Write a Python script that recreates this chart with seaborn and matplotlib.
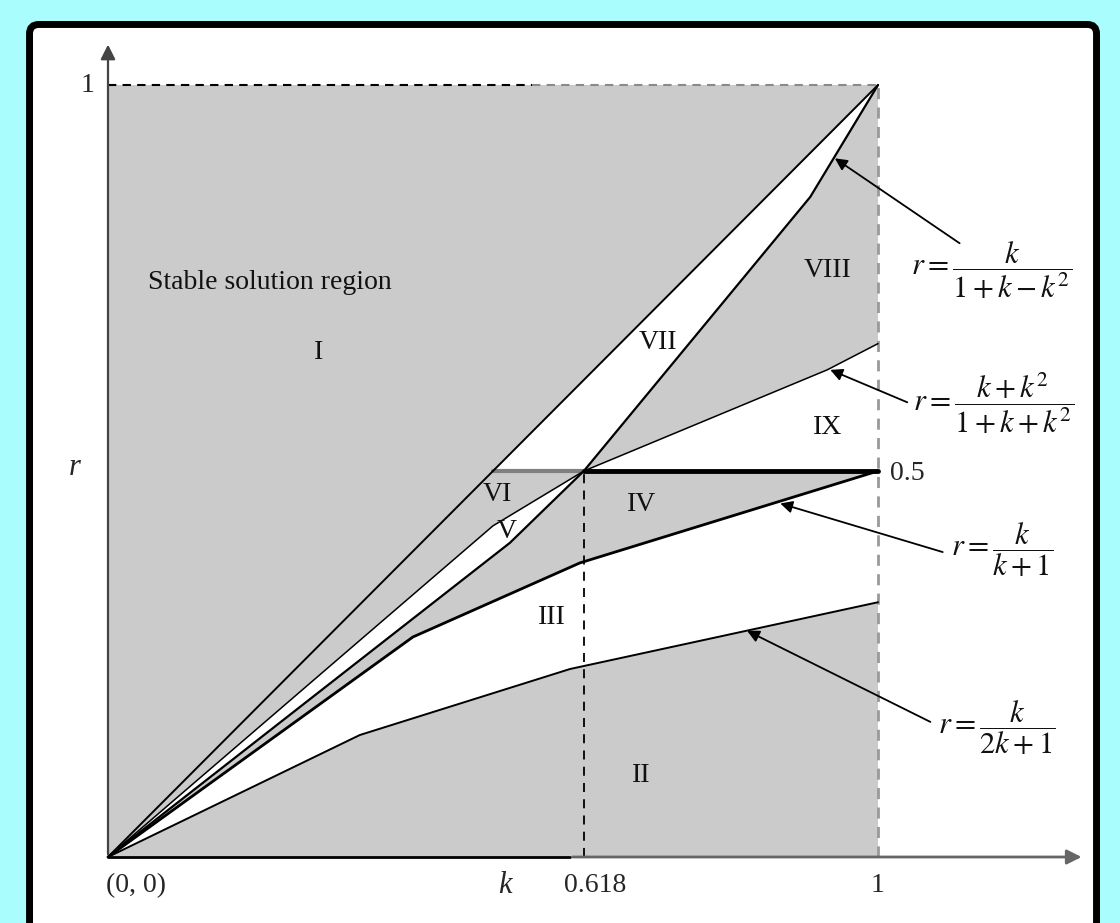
import numpy as np
import matplotlib
matplotlib.use("Agg")
import matplotlib.pyplot as plt
import seaborn as sns
from matplotlib.patches import FancyBboxPatch

sns.set_style("white")
plt.rcParams['font.family'] = ['Liberation Serif', 'DejaVu Serif']
plt.rcParams['mathtext.fontset'] = 'stix'

# boundary curves (k, r)
k_diag = [0.0, 1.0]
r_diag = [0.0, 1.0]
k_B = [0.0, 0.5, 0.618, 0.934, 1.0]        # r = (k+k^2)/(1+k+k^2)
r_B = [0.0, 0.429, 0.5, 0.631, 0.665]
k_C = [0.0, 0.522, 0.618, 0.912, 1.0]      # r = k/(1+k-k^2)
r_C = [0.0, 0.407, 0.5, 0.855, 1.0]
k_D = [0.0, 0.396, 0.613, 1.0]             # r = k/(k+1)
r_D = [0.0, 0.285, 0.381, 0.5]
k_E = [0.0, 0.327, 0.6, 1.0]               # r = k/(2k+1)
r_E = [0.0, 0.158, 0.2435, 0.33]

k_gold = 0.618
r_half = 0.5

region_names = ['I', 'II', 'III', 'IV', 'V', 'VI', 'VII', 'VIII', 'IX']
region_k = [0.273, 0.692, 0.577, 0.693, 0.518, 0.506, 0.714, 0.934, 0.935]
region_r = [0.654, 0.106, 0.310, 0.456, 0.421, 0.469, 0.666, 0.760, 0.556]

formulas = [r'$r=\dfrac{k}{1+k-k^2}$', r'$r=\dfrac{k+k^2}{1+k+k^2}$',
            r'$r=\dfrac{k}{k+1}$', r'$r=\dfrac{k}{2k+1}$']
formula_pos = [(1.043, 0.760), (1.046, 0.588), (1.095, 0.398), (1.078, 0.168)]
arrow_tail = [(1.106, 0.795), (1.038, 0.589), (1.084, 0.395), (1.068, 0.175)]
arrow_head = [(0.944, 0.905), (0.938, 0.631), (0.873, 0.458), (0.830, 0.293)]

gray = '#cbcbcb'

fig = plt.figure(figsize=(11.2, 9.23), dpi=100, facecolor='#a9fdfd')
ax = fig.add_axes([0, 0, 1, 1])
ax.set_xlim(-108 / 770, 1012 / 770)
ax.set_ylim(-66 / 772, 857 / 772)
ax.axis('off')

frame = FancyBboxPatch((-0.1019, -0.133), 1.3857, 1.2114,
                       boxstyle="round,pad=0,rounding_size=0.012",
                       facecolor='white', edgecolor='black', lw=5,
                       zorder=0, clip_on=False)
ax.add_patch(frame)

# shaded square, then white regions on top
ax.fill_between([0, 1], 0, 1, color=gray, lw=0, zorder=1)
ax.fill(k_B[:3] + k_C[:3][::-1], r_B[:3] + r_C[:3][::-1], color='white', lw=0, zorder=2)   # V
ax.fill([r_half] + [1.0] + k_C[2:][::-1], [r_half] + [1.0] + r_C[2:][::-1], color='white', lw=0, zorder=2)  # VII
ax.fill(k_B[2:] + [1.0], r_B[2:] + [r_half], color='white', lw=0, zorder=2)   # IX
ax.fill(k_D + k_E[::-1], r_D + r_E[::-1], color='white', lw=0, zorder=2)      # III

# dashed guides
ax.plot([0, 0.55], [1, 1], color='black', ls=(0, (4, 3)), lw=1.5, zorder=3)
ax.plot([0.55, 1], [1, 1], color='#8a8a8a', ls=(0, (4, 3)), lw=1.5, zorder=3)
ax.plot([1, 1], [0, 1], color='#999999', ls=(0, (4, 3)), lw=2, zorder=3)
ax.plot([k_gold, k_gold], [0, r_half], color='black', ls=(0, (5, 4)), lw=1.3, zorder=3)

# the r = 0.5 line
ax.plot([0.5, k_gold], [r_half, r_half], color='#808080', lw=3, zorder=4)
ax.plot([k_gold, 1.0], [r_half, r_half], color='black', lw=3.5, zorder=4)

# curves
sns.lineplot(x=k_diag, y=r_diag, sort=False, estimator=None, color='black', lw=1.4, ax=ax, zorder=5)
sns.lineplot(x=k_B, y=r_B, sort=False, estimator=None, color='black', lw=1.1, ax=ax, zorder=5)
sns.lineplot(x=k_C, y=r_C, sort=False, estimator=None, color='black', lw=1.6, ax=ax, zorder=5)
sns.lineplot(x=k_D, y=r_D, sort=False, estimator=None, color='black', lw=2.0, ax=ax, zorder=5)
sns.lineplot(x=k_E, y=r_E, sort=False, estimator=None, color='black', lw=1.4, ax=ax, zorder=5)
ax.axis('off')

# axes with arrows
ax.plot([0, 0.6], [0, 0], color='black', lw=2, zorder=6)
ax.annotate('', xy=(1.268, 0), xytext=(0.6, 0),
            arrowprops=dict(arrowstyle='-|>', color='#666666', lw=2, mutation_scale=22), zorder=6)
ax.annotate('', xy=(0, 1.056), xytext=(0, 0),
            arrowprops=dict(arrowstyle='-|>', color='#444444', lw=1.6, mutation_scale=22), zorder=6)

# region labels
for name, x, y in zip(region_names, region_k, region_r):
    ax.text(x, y, name, ha='center', va='center', fontsize=20, color='#111111', zorder=7)
ax.text(0.052, 0.744, 'Stable solution region', ha='left', va='center', fontsize=20, color='#111111', zorder=7)

# formulas and arrows
for txt, (x, y) in zip(formulas, formula_pos):
    ax.text(x, y, txt, ha='left', va='center', fontsize=22, color='#111111')
for (tx, ty), (hx, hy) in zip(arrow_tail, arrow_head):
    ax.annotate('', xy=(hx, hy), xytext=(tx, ty),
                arrowprops=dict(arrowstyle='-|>', color='black', lw=1.3, mutation_scale=18,
                                shrinkA=0, shrinkB=0), zorder=8)

# axis texts
ax.text(-0.043, 0.505, 'r', style='italic', ha='center', va='center', fontsize=22)
ax.text(-0.027, 1.0, '1', ha='center', va='center', fontsize=20)
ax.text(1.016, 0.497, '0.5', ha='left', va='center', fontsize=20)
ax.text(0.037, -0.037, '(0, 0)', ha='center', va='center', fontsize=20)
ax.text(0.516, -0.037, 'k', style='italic', ha='center', va='center', fontsize=22)
ax.text(0.632, -0.037, '0.618', ha='center', va='center', fontsize=20)
ax.text(1.0, -0.037, '1', ha='center', va='center', fontsize=20)

fig.savefig('out.png', dpi=100, facecolor=fig.get_facecolor())
